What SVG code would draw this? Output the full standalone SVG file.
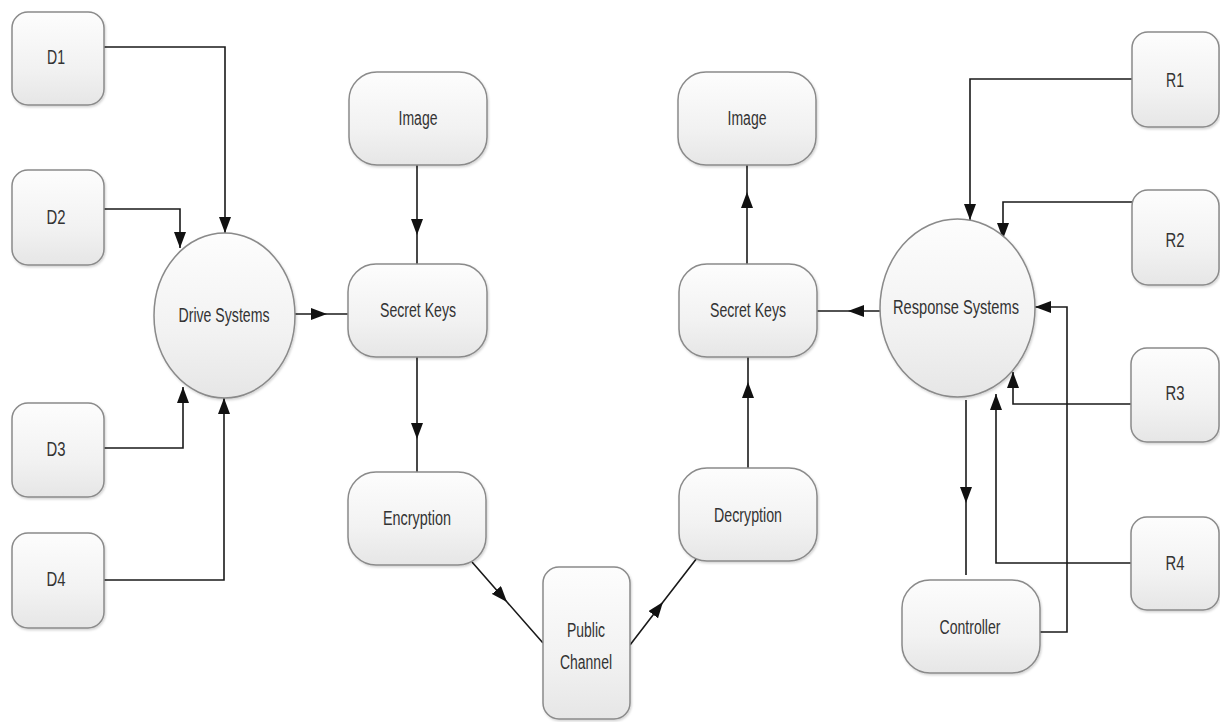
<svg xmlns="http://www.w3.org/2000/svg" width="1220" height="722" viewBox="0 0 1220 722">
<defs>
<linearGradient id="g" x1="0" y1="0" x2="0" y2="1">
<stop offset="0" stop-color="#fdfdfd"/>
<stop offset="0.6" stop-color="#f2f2f2"/>
<stop offset="1" stop-color="#e6e6e6"/>
</linearGradient>
<filter id="sh" x="-10%" y="-10%" width="125%" height="125%">
<feDropShadow dx="1" dy="1.5" stdDeviation="1.2" flood-color="#000" flood-opacity="0.18"/>
</filter>
<marker id="arr" viewBox="0 0 16 12" refX="16" refY="6" markerWidth="16" markerHeight="12" markerUnits="userSpaceOnUse" orient="auto">
<path d="M0,0 L16,6 L0,12 z" fill="#111"/>
</marker>
</defs>
<style>
.n{fill:url(#g);stroke:#8a8a8a;stroke-width:1.5;filter:url(#sh)}
.t{font-family:"Liberation Sans",Arial,sans-serif;font-size:20px;fill:#333;text-anchor:middle;dominant-baseline:central}
.c path{fill:none;stroke:#1a1a1a;stroke-width:1.6}
.e{marker-end:url(#arr)}
.m{marker-mid:url(#arr)}
</style>
<rect width="1220" height="722" fill="#fff"/>

<g class="c" id="connectors">
<path class="e" d="M104,47 H225 V233"/>
<path class="e" d="M104,209 H180 V248"/>
<path class="e" d="M104,448 H183 V387"/>
<path class="e" d="M104,580 H224 V398"/>
<path class="m" d="M295,314 L327,314 L348,314"/>
<path class="m" d="M417,165 L417,235 L417,264"/>
<path class="m" d="M417,357 L417,439 L417,472"/>
<path class="m" d="M472,562 L507,602 L543,643"/>
<path class="m" d="M630,645 L663,602 L697,558"/>
<path class="m" d="M748,468 L748,382 L748,357"/>
<path class="m" d="M747,264 L747,192 L747,165"/>
<path class="m" d="M882,311 L848,311 L817,311"/>
<path class="e" d="M1132,79 H970 V220"/>
<path class="e" d="M1132,202 H1003 V239"/>
<path class="e" d="M1040,632 H1067 V307 H1035"/>
<path class="e" d="M1131,404 H1013 V372"/>
<path class="e" d="M1131,563 H996 V394"/>
<path class="m" d="M966,400 L966,503 L966,575"/>
</g>

<g id="D1"><rect class="n" x="12" y="12" width="92" height="93" rx="16"/><text class="t" x="56" y="57" textLength="18" lengthAdjust="spacingAndGlyphs">D1</text></g>
<g id="D2"><rect class="n" x="12" y="170" width="92" height="95" rx="16"/><text class="t" x="56" y="217" textLength="19" lengthAdjust="spacingAndGlyphs">D2</text></g>
<g id="D3"><rect class="n" x="12" y="403" width="92" height="94" rx="16"/><text class="t" x="56" y="449" textLength="19" lengthAdjust="spacingAndGlyphs">D3</text></g>
<g id="D4"><rect class="n" x="12" y="533" width="92" height="95" rx="16"/><text class="t" x="56" y="579" textLength="19" lengthAdjust="spacingAndGlyphs">D4</text></g>

<g id="drive"><ellipse class="n" cx="224.5" cy="315.5" rx="70.5" ry="82.5"/><text class="t" x="224" y="315" textLength="91" lengthAdjust="spacingAndGlyphs">Drive Systems</text></g>

<g id="imageL"><rect class="n" x="349" y="72" width="138" height="93" rx="28"/><text class="t" x="418" y="118" textLength="39" lengthAdjust="spacingAndGlyphs">Image</text></g>
<g id="keysL"><rect class="n" x="348" y="264" width="139" height="93" rx="28"/><text class="t" x="418" y="310" textLength="76" lengthAdjust="spacingAndGlyphs">Secret Keys</text></g>
<g id="encryption"><rect class="n" x="348" y="472" width="138" height="93" rx="28"/><text class="t" x="417" y="518" textLength="68" lengthAdjust="spacingAndGlyphs">Encryption</text></g>

<g id="public"><rect class="n" x="543" y="567" width="87" height="152" rx="16"/><text class="t" x="586" y="630" textLength="38" lengthAdjust="spacingAndGlyphs">Public</text><text class="t" x="586" y="662" textLength="52" lengthAdjust="spacingAndGlyphs">Channel</text></g>

<g id="decryption"><rect class="n" x="679" y="468" width="138" height="93" rx="28"/><text class="t" x="748" y="515" textLength="68" lengthAdjust="spacingAndGlyphs">Decryption</text></g>
<g id="keysR"><rect class="n" x="679" y="264" width="138" height="93" rx="28"/><text class="t" x="748" y="310" textLength="76" lengthAdjust="spacingAndGlyphs">Secret Keys</text></g>
<g id="imageR"><rect class="n" x="678" y="72" width="138" height="93" rx="28"/><text class="t" x="747" y="118" textLength="39" lengthAdjust="spacingAndGlyphs">Image</text></g>

<g id="response"><ellipse class="n" cx="957.5" cy="308" rx="77.5" ry="89"/><text class="t" x="956" y="307" textLength="126" lengthAdjust="spacingAndGlyphs">Response Systems</text></g>

<g id="R1"><rect class="n" x="1132" y="32" width="87" height="95" rx="16"/><text class="t" x="1175" y="80" textLength="18" lengthAdjust="spacingAndGlyphs">R1</text></g>
<g id="R2"><rect class="n" x="1132" y="190" width="87" height="95" rx="16"/><text class="t" x="1175" y="240" textLength="19" lengthAdjust="spacingAndGlyphs">R2</text></g>
<g id="R3"><rect class="n" x="1131" y="348" width="88" height="94" rx="16"/><text class="t" x="1175" y="393" textLength="19" lengthAdjust="spacingAndGlyphs">R3</text></g>
<g id="R4"><rect class="n" x="1131" y="517" width="88" height="93" rx="16"/><text class="t" x="1175" y="563" textLength="19" lengthAdjust="spacingAndGlyphs">R4</text></g>

<g id="controller"><rect class="n" x="902" y="580" width="138" height="93" rx="28"/><text class="t" x="970" y="627" textLength="61" lengthAdjust="spacingAndGlyphs">Controller</text></g>
</svg>
